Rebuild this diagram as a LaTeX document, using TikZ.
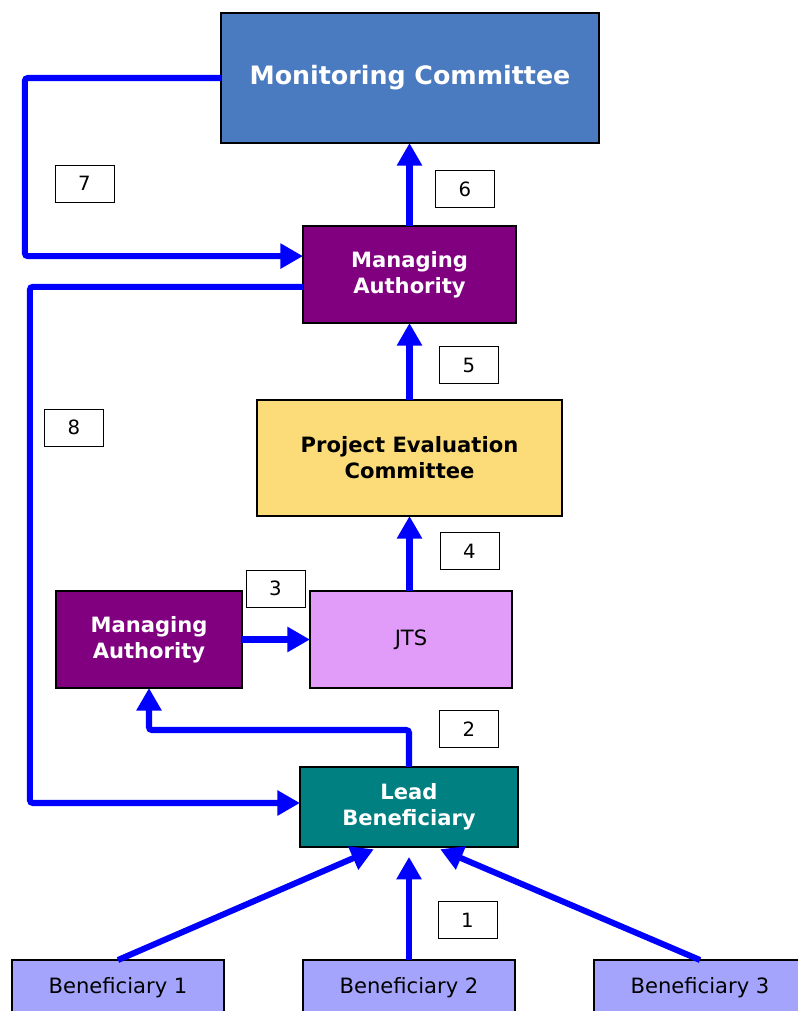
\documentclass[tikz,border=0pt]{standalone}
\usepackage{fontspec}
\setmainfont{DejaVu Sans}
\usepackage{xcolor}
\usepackage{tikz}
\usetikzlibrary{arrows.meta}
\definecolor{mcfill}{HTML}{4A7BC0}
\definecolor{mafill}{HTML}{800080}
\definecolor{pecfill}{HTML}{FCDC78}
\definecolor{jtsfill}{HTML}{E09CF8}
\definecolor{lbfill}{HTML}{008080}
\definecolor{benfill}{HTML}{A4A4FC}
\definecolor{flowblue}{HTML}{0000FF}
\tikzset{
  box/.style={draw=black, line width=0.8pt, inner sep=0pt, outer sep=0pt,
              align=center},
  darkbox/.style={box, text=white, font=\bfseries\fontsize{15}{18.4}\selectfont},
  lightbox/.style={box, text=black, font=\fontsize{15}{18.4}\selectfont},
  stepnum/.style={draw=black, fill=white, line width=0.7pt, inner sep=0pt,
                  outer sep=0pt, minimum width=1.475cm, minimum height=0.925cm,
                  font=\fontsize{14}{16}\selectfont},
  flow/.style={draw=flowblue, line width=4.3pt, rounded corners=2pt,
               -{Triangle[length=16pt,width=17pt]}}
}

\begin{document}
\begin{tikzpicture}[x=0.025cm, y=-0.025cm]
  \useasboundingbox (0,0) rectangle (797,1011);

  % --- top of the chain ---
  \node[darkbox, fill=mcfill, minimum width=9.45cm, minimum height=3.25cm,
        font=\bfseries\fontsize{18}{22}\selectfont] (MC) at (410,78) {Monitoring Committee};
  \node[darkbox, fill=mafill, minimum width=5.325cm, minimum height=2.425cm] (MAtop) at (409.5,274.5) {Managing\\Authority};
  \node[lightbox, fill=pecfill, font=\bfseries\fontsize{15}{18.4}\selectfont,
        minimum width=7.625cm, minimum height=2.9cm] (PEC) at (409.5,458) {Project Evaluation\\Committee};

  % --- middle row ---
  \node[darkbox, fill=mafill, minimum width=4.65cm, minimum height=2.425cm] (MAleft) at (149,639.5) {Managing\\Authority};
  \node[lightbox, fill=jtsfill, minimum width=5.05cm, minimum height=2.425cm] (JTS) at (411,639.5) {JTS};

  % --- beneficiaries ---
  \node[darkbox, fill=lbfill, minimum width=5.45cm, minimum height=2cm] (LB) at (409,807) {Lead\\Beneficiary};
  \node[lightbox, fill=benfill, minimum width=5.3cm, minimum height=1.4cm] (B1) at (118,988) {Beneficiary 1};
  \node[lightbox, fill=benfill, minimum width=5.3cm, minimum height=1.4cm] (B2) at (409,988) {Beneficiary 2};
  \node[lightbox, fill=benfill, minimum width=5.3cm, minimum height=1.4cm] (B3) at (700,988) {Beneficiary 3};

  % --- flows ---
  \draw[flow, shorten >=4pt] (B1.north) -- ([xshift=-0.75cm]LB.south);
  \draw[flow, shorten >=7pt] (B2.north) -- (LB.south);
  \draw[flow, shorten >=4pt] (B3.north) -- ([xshift=0.65cm]LB.south);
  \draw[flow] (LB.north) -- ++(0,-37) -| (MAleft.south);
  \draw[flow] (MAleft.east) -- (JTS.west);
  \draw[flow] (JTS.north -| PEC.south) -- (PEC.south);
  \draw[flow] (PEC.north) -- (MAtop.south);
  \draw[flow] (MAtop.north) -- (MAtop.north |- MC.south);
  \draw[flow] (MC.west) -- ++(-196,0) |- ([yshift=0.46cm]MAtop.west);
  \draw[flow] ([yshift=-0.31cm]MAtop.west) -- ++(-273,0) |- ([yshift=0.1cm]LB.west);

  % --- step numbers ---
  \node[stepnum] (n1) at (467.5,920) {1};
  \node[stepnum] (n2) at (469,729) {2};
  \node[stepnum] (n3) at (275.5,588.5) {3};
  \node[stepnum] (n4) at (469.5,551) {4};
  \node[stepnum] (n5) at (469,365) {5};
  \node[stepnum] (n6) at (465,189) {6};
  \node[stepnum] (n7) at (84.5,183.5) {7};
  \node[stepnum] (n8) at (74,427.5) {8};

\end{tikzpicture}
\end{document}
